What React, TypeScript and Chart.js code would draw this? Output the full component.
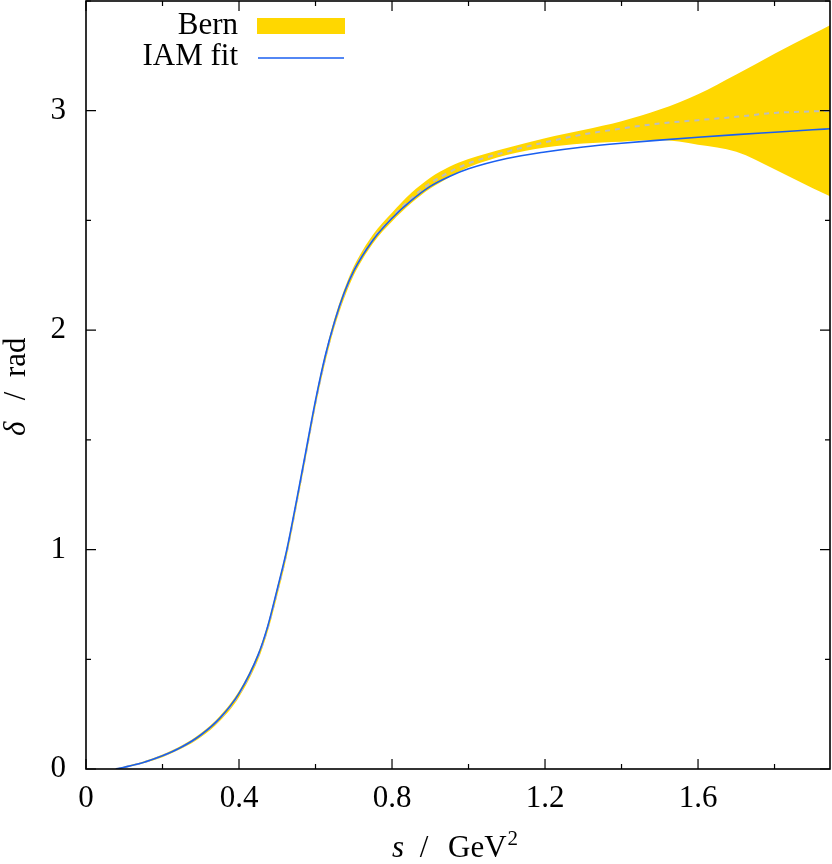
import React, { useEffect, useRef } from "react";
import { Chart, registerables } from "chart.js";

Chart.register(...registerables);

// s / GeV^2
const sValues = [
  0.078, 0.1, 0.15, 0.2, 0.25, 0.3, 0.35, 0.4, 0.45, 0.475, 0.5, 0.525, 0.55, 0.575, 0.6, 0.625, 0.65,
  0.675, 0.7, 0.75, 0.8, 0.85, 0.9, 0.95, 1.0, 1.1, 1.2, 1.3, 1.4, 1.5, 1.6, 1.7, 1.8, 1.9, 1.945,
];
// IAM fit phase (rad)
const iamFit = [
  0, 0.008, 0.03, 0.06, 0.1, 0.155, 0.232, 0.345, 0.52, 0.65, 0.82, 1.0, 1.22, 1.45, 1.68, 1.88, 2.04,
  2.17, 2.27, 2.41, 2.51, 2.59, 2.655, 2.7, 2.735, 2.782, 2.812, 2.835, 2.852, 2.866, 2.879, 2.891, 2.902, 2.913, 2.918,
];
// Bern central value
const bernCentral = [
  0, 0.008, 0.03, 0.06, 0.1, 0.154, 0.23, 0.341, 0.514, 0.643, 0.81, 0.99, 1.21, 1.44, 1.67, 1.87, 2.035,
  2.165, 2.27, 2.415, 2.515, 2.6, 2.67, 2.72, 2.76, 2.813, 2.856, 2.892, 2.919, 2.942, 2.957, 2.972, 2.99, 2.997, 3.0,
];
// Bern upper edge
const bernUpper = [
  0, 0.011, 0.034, 0.066, 0.107, 0.163, 0.242, 0.355, 0.53, 0.66, 0.83, 1.01, 1.23, 1.46, 1.69, 1.89, 2.055,
  2.185, 2.29, 2.435, 2.535, 2.625, 2.695, 2.745, 2.78, 2.83, 2.875, 2.912, 2.952, 3.005, 3.075, 3.165, 3.26, 3.35, 3.39,
];
// Bern lower edge
const bernLower = [
  0, 0.005, 0.026, 0.054, 0.093, 0.145, 0.219, 0.327, 0.498, 0.626, 0.79, 0.97, 1.19, 1.42, 1.65, 1.85, 2.015,
  2.145, 2.25, 2.395, 2.495, 2.578, 2.645, 2.697, 2.742, 2.798, 2.832, 2.851, 2.859, 2.866, 2.845, 2.813, 2.733, 2.647, 2.61,
];

const xTickValues = [0, 0.2, 0.4, 0.6, 0.8, 1.0, 1.2, 1.4, 1.6, 1.8];
const yTickValues = [0, 0.5, 1, 1.5, 2, 2.5, 3, 3.5];

const X_MAX = 1.945;
const Y_MAX = 3.5;
const FONT = "'Liberation Serif', 'DejaVu Serif', serif";
const FS = 31;
const GOLD = "#ffd700";
const BLUE = "#1a5ff0";

const pts = (ys: number[]) => sValues.map((x, i) => ({ x, y: ys[i] }));

const isMajor = (v: number, step: number) => Math.abs(v / step - Math.round(v / step)) < 1e-6;

const decorPlugin = {
  id: "decor",
  afterDraw(chart: any) {
    const ctx = chart.ctx as CanvasRenderingContext2D;
    const { left, right, top, bottom } = chart.chartArea;
    const xs = chart.scales.x;
    const ys = chart.scales.y;
    ctx.save();
    ctx.strokeStyle = "#000";
    ctx.lineWidth = 1.2;
    ctx.beginPath();
    xTickValues.forEach((v) => {
      const px = xs.getPixelForValue(v);
      const len = isMajor(v, 0.4) ? 10 : 5;
      ctx.moveTo(px, bottom);
      ctx.lineTo(px, bottom - len);
      ctx.moveTo(px, top);
      ctx.lineTo(px, top + len);
    });
    yTickValues.forEach((v) => {
      const py = ys.getPixelForValue(v);
      const len = isMajor(v, 1) ? 10 : 5;
      ctx.moveTo(left, py);
      ctx.lineTo(left + len, py);
      ctx.moveTo(right, py);
      ctx.lineTo(right - len, py);
    });
    ctx.stroke();
    ctx.lineWidth = 1.6;
    ctx.strokeRect(left, top, right - left, bottom - top);

    ctx.fillStyle = "#000";
    ctx.textBaseline = "alphabetic";
    const big = `${FS}px ${FONT}`;
    const ital = `italic ${FS}px ${FONT}`;
    const sup = `21px ${FONT}`;

    // x title: "s / GeV²"
    const cx = (left + right) / 2;
    const by = 857;
    ctx.textAlign = "left";
    ctx.font = ital;
    ctx.fillText("s", cx - 66, by);
    ctx.font = big;
    ctx.textAlign = "center";
    ctx.fillText("/", cx - 34, by);
    ctx.textAlign = "left";
    ctx.fillText("GeV", cx - 10, by);
    const wG = ctx.measureText("GeV").width;
    ctx.font = sup;
    ctx.fillText("2", cx - 10 + wG + 1, by - 12);

    // y title: "δ / rad"
    ctx.save();
    ctx.translate(25, (top + bottom) / 2);
    ctx.rotate(-Math.PI / 2);
    ctx.textAlign = "left";
    ctx.font = ital;
    ctx.fillText("δ", -51, 0);
    ctx.font = big;
    ctx.textAlign = "center";
    ctx.fillText("/", -11, 0);
    ctx.textAlign = "left";
    ctx.fillText("rad", 8, 0);
    ctx.restore();

    // legend
    ctx.font = big;
    ctx.textAlign = "right";
    ctx.fillStyle = "#000";
    ctx.fillText("Bern", 238, 34);
    ctx.fillText("IAM fit", 238, 65);
    ctx.fillStyle = GOLD;
    ctx.fillRect(257, 18, 88, 16);
    ctx.strokeStyle = BLUE;
    ctx.lineWidth = 1.5;
    ctx.beginPath();
    ctx.moveTo(258, 58);
    ctx.lineTo(344, 58);
    ctx.stroke();
    ctx.restore();
  },
};

export default function App() {
  const ref = useRef<HTMLCanvasElement | null>(null);
  useEffect(() => {
    if (!ref.current) return;
    const chart = new Chart(ref.current, {
      type: "line",
      data: {
        datasets: [
          {
            label: "Bern upper",
            data: pts(bernUpper),
            borderWidth: 0,
            borderColor: GOLD,
            backgroundColor: GOLD,
            pointRadius: 0,
            fill: "+1",
            cubicInterpolationMode: "monotone",
            order: 4,
          },
          {
            label: "Bern lower",
            data: pts(bernLower),
            borderWidth: 0,
            borderColor: GOLD,
            backgroundColor: GOLD,
            pointRadius: 0,
            fill: false,
            cubicInterpolationMode: "monotone",
            order: 3,
          },
          {
            label: "Bern",
            data: pts(bernCentral),
            borderWidth: 2,
            borderColor: "#bdbdbd",
            borderDash: [5, 5],
            pointRadius: 0,
            fill: false,
            cubicInterpolationMode: "monotone",
            order: 2,
          },
          {
            label: "IAM fit",
            data: pts(iamFit),
            borderWidth: 1.6,
            borderColor: BLUE,
            pointRadius: 0,
            fill: false,
            cubicInterpolationMode: "monotone",
            order: 1,
          },
        ],
      },
      options: {
        responsive: false,
        animation: false,
        layout: { padding: { top: 1, right: 2, left: 0, bottom: 0 } },
        plugins: {
          legend: { display: false },
          tooltip: { enabled: false },
          title: { display: false },
        },
        scales: {
          x: {
            type: "linear",
            min: 0,
            max: X_MAX,
            grid: { display: false, drawTicks: false },
            border: { display: false },
            afterBuildTicks: (scale: any) => {
              scale.ticks = xTickValues.map((v) => ({ value: v }));
            },
            afterFit: (scale: any) => {
              scale.height = 95;
              scale.paddingLeft = 0;
              scale.paddingRight = 0;
            },
            ticks: {
              autoSkip: false,
              maxRotation: 0,
              padding: 11,
              color: "#000",
              font: { family: FONT, size: FS },
              callback: (v: any) => (isMajor(Number(v), 0.4) ? String(Math.round(Number(v) * 10) / 10) : ""),
            },
          },
          y: {
            type: "linear",
            min: 0,
            max: Y_MAX,
            grid: { display: false, drawTicks: false },
            border: { display: false },
            afterBuildTicks: (scale: any) => {
              scale.ticks = yTickValues.map((v) => ({ value: v }));
            },
            afterFit: (scale: any) => {
              scale.width = 86;
              scale.paddingTop = 0;
              scale.paddingBottom = 0;
            },
            ticks: {
              autoSkip: false,
              padding: 20,
              color: "#000",
              font: { family: FONT, size: FS },
              callback: (v: any) => (isMajor(Number(v), 1) ? String(Math.round(Number(v))) : ""),
            },
          },
        },
      },
      plugins: [decorPlugin],
    } as any);
    return () => chart.destroy();
  }, []);
  return (
    <div style={{ position: "absolute", left: 0, top: 0, width: 832, height: 864 }}>
      <canvas ref={ref} width={832} height={864} style={{ width: 832, height: 864, display: "block" }} />
    </div>
  );
}
